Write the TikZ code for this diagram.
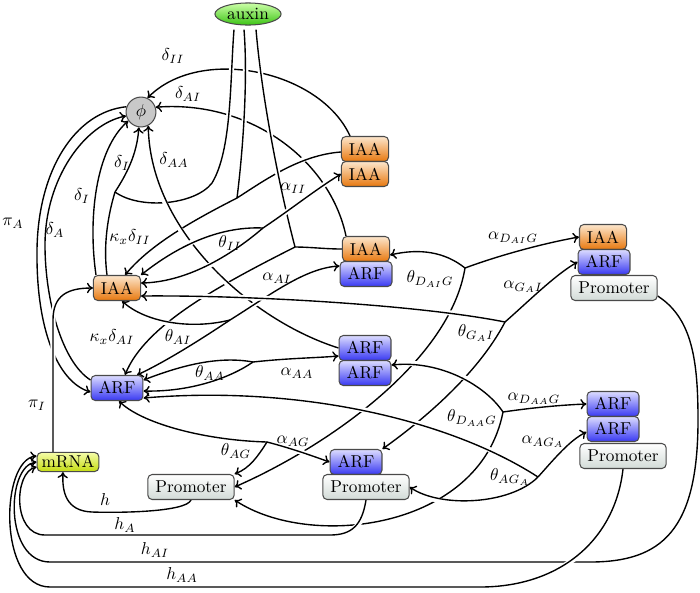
\documentclass[tikz,border=0pt]{standalone}
\usepackage{amsmath,amssymb}
\usepackage{xcolor}
\usepackage{tikz}
\usetikzlibrary{calc,shapes.geometric,arrows.meta}
\definecolor{boxline}{HTML}{4A4A4A}
\definecolor{iaaTop}{HTML}{FCE6CC}
\definecolor{iaaBot}{HTML}{E8780E}
\definecolor{arfTop}{HTML}{DCDCFF}
\definecolor{arfBot}{HTML}{3838F2}
\definecolor{proTop}{HTML}{FFFFFF}
\definecolor{proBot}{HTML}{D2DBD7}
\definecolor{mrnaTop}{HTML}{F4FCA8}
\definecolor{mrnaBot}{HTML}{C4DC10}
\definecolor{auxTop}{HTML}{CCFFA8}
\definecolor{auxBot}{HTML}{3CC414}
\definecolor{sinkFill}{HTML}{C8C8C8}
\pgfdeclarelayer{back}
\pgfsetlayers{back,main}
\tikzset{
  box/.style={draw=boxline, line width=0.6pt, rounded corners=2.5pt, minimum height=0.51cm, inner sep=1pt},
  iaabox/.style={box, top color=iaaTop, bottom color=iaaBot, minimum width=0.96cm},
  arfbox/.style={box, top color=arfTop, bottom color=arfBot, minimum width=1.06cm},
  prombox/.style={box, top color=proTop, bottom color=proBot, minimum width=1.76cm},
  mrnabox/.style={box, top color=mrnaTop, bottom color=mrnaBot, minimum width=1.26cm, minimum height=0.39cm},
  signal/.style={ellipse, draw=boxline, line width=0.6pt, top color=auxTop, bottom color=auxBot, minimum width=1.35cm, minimum height=0.45cm, inner sep=0pt},
  sink/.style={circle, draw=boxline, line width=0.6pt, fill=sinkFill, minimum size=0.61cm, inner sep=0pt},
  rx/.style={draw=black, line width=0.8pt, preaction={-, draw=white, line width=3pt, shorten <=6pt, shorten >=6pt}},
  ra/.style={rx, -{To[length=3.5pt,width=6pt]}},
  lab/.style={inner sep=0pt},
}

\begin{document}
\begin{tikzpicture}[x=0.0204cm, y=-0.0204cm]
  \useasboundingbox (0,0) rectangle (700,592);
  \node[signal] (auxin) at (248,14) {auxin};
  \node[sink] (phi) at (141,112) {$\phi$};
  \node[iaabox] (iiT) at (365,149) {IAA};
  \node[iaabox] (iiB) at (365,174) {IAA};
  \node[iaabox] (iaI) at (366,249) {IAA};
  \node[arfbox] (iaA) at (366,274) {ARF};
  \node[arfbox] (aaT) at (365,348) {ARF};
  \node[arfbox] (aaB) at (365,373) {ARF};
  \node[iaabox] (iaa) at (117,288) {IAA};
  \node[arfbox] (arf) at (117,388) {ARF};
  \node[mrnabox] (mrna) at (68,462) {mRNA};
  \node[prombox] (gP) at (191,487) {Promoter};
  \node[arfbox] (gaA) at (356,462) {ARF};
  \node[prombox] (gaP) at (366,487) {Promoter};
  \node[iaabox] (gaiI) at (603,237) {IAA};
  \node[arfbox] (gaiA) at (604,262) {ARF};
  \node[prombox] (gaiP) at (614,288) {Promoter};
  \node[arfbox] (gaaT) at (613,404) {ARF};
  \node[arfbox] (gaaB) at (613,429) {ARF};
  \node[prombox] (gaaP) at (623,456) {Promoter};

  \coordinate (jI) at (115,192);
  \coordinate (jII) at (237,198);
  \coordinate (jAx) at (295,247);
  \coordinate (jII2) at (263,228);
  \coordinate (jAI) at (230,320);
  \coordinate (jAA) at (253,362);
  \coordinate (jAG) at (267,442);
  \coordinate (jAGA) at (538,477);
  \coordinate (jDAA) at (503,412);
  \coordinate (jDAI) at (465,268);
  \coordinate (jGAI) at (505,322);

  \begin{pgfonlayer}{back}
  \draw[ra] ($(iiT.north)+(-15,0)$) .. controls (320,70) and (200,45) .. (phi.65);
  \draw[ra] ($(iaI.north)+(-20,0)$) .. controls (330,160) and (250,100) .. (phi.18);
  \draw[ra] ($(iaa.north)+(-21,0)$) .. controls (88,220) and (95,150) .. (phi.-145);
  \draw[ra] (phi.160) .. controls (75,112) and (38,170) .. (37,250) .. controls (36,330) and (58,382) .. ($(arf.west)+(0,4)$);
  \draw[ra] ($(arf.west)+(0,-8)$) .. controls (62,362) and (45,300) .. (45,245) .. controls (45,178) and (85,124) .. (phi.195);
  \draw[rx] ($(auxin.south)+(-14,4)$) .. controls (230,80) and (232,150) .. (212,183) .. controls (195,205) and (140,210) .. (jI);
  \draw[rx] ($(iaa.north)+(-10,0)$) .. controls (103,245) and (108,215) .. (jI);
  \draw[ra] (jI) .. controls (126,175) and (137,155) .. (phi.-98);
  \draw[rx] ($(iiT.west)+(0,3)$) .. controls (300,155) and (265,180) .. (jII);
  \draw[rx] ($(auxin.south)+(-4,4)$) .. controls (248,80) and (243,150) .. (jII);
  \draw[ra] (jII) .. controls (190,222) and (150,245) .. ($(iaa.north)+(8,0)$);
  \draw[rx] (iaI.west) .. controls (325,249) and (310,247) .. (jAx);
  \draw[rx] ($(auxin.south)+(8,4)$) .. controls (262,100) and (280,190) .. (jAx);
  \draw[ra] (jAx) .. controls (220,285) and (145,325) .. ($(arf.north)+(8,0)$);
  \draw[ra] (aaT.west) .. controls (250,320) and (150,230) .. (phi.-62);
  \draw[ra] (jII2) .. controls (290,210) and (315,190) .. (iiB.west);
  \draw[ra] (jII2) .. controls (217,226) and (175,248) .. (iaa.north east);
  \draw[ra] (jII2) .. controls (235,252) and (190,282) .. ($(iaa.east)+(0,-5)$);
  \draw[ra] (jAI) .. controls (270,295) and (305,268) .. ($(iaA.west)+(0,-8)$);
  \draw[ra] (jAI) .. controls (190,330) and (145,322) .. ($(iaa.south)+(5,0)$);
  \draw[ra] (jAI) .. controls (200,340) and (165,362) .. ($(arf.north)+(20,0)$);
  \draw[ra] (jAA) .. controls (290,358) and (315,358) .. ($(aaT.west)+(0,8)$);
  \draw[ra] (jAA) .. controls (215,355) and (175,368) .. ($(arf.east)+(0,-8)$);
  \draw[ra] (jAA) .. controls (230,378) and (190,392) .. ($(arf.east)+(0,3)$);
  \draw[ra] (jDAI) .. controls (500,255) and (545,243) .. (gaiI.west);
  \draw[ra] (jDAI) .. controls (445,252) and (420,248) .. ($(iaI.east)+(0,6)$);
  \draw[ra] (jDAI) .. controls (450,360) and (330,445) .. (gP.east);
  \draw[ra] (jGAI) .. controls (530,300) and (555,275) .. (gaiA.west);
  \draw[ra] (jGAI) .. controls (420,305) and (250,295) .. ($(iaa.east)+(0,8)$);
  \draw[ra] (jGAI) .. controls (480,370) and (430,415) .. (gaA.north east);
  \draw[ra] (jDAA) .. controls (530,408) and (560,405) .. (gaaT.west);
  \draw[ra] (jDAA) .. controls (485,385) and (440,360) .. ($(aaB.east)+(0,-8)$);
  \draw[ra] (jDAA) .. controls (480,530) and (310,550) .. (gP.south east);
  \draw[ra] (jAGA) .. controls (555,458) and (570,440) .. ($(gaaB.west)+(0,3)$);
  \draw[ra] (jAGA) .. controls (510,505) and (440,508) .. (gaP.east);
  \draw[ra] (jAGA) .. controls (450,420) and (300,385) .. ($(arf.east)+(0,10)$);
  \draw[ra] (jAG) .. controls (290,448) and (310,455) .. (gaA.west);
  \draw[ra] (jAG) .. controls (258,456) and (250,468) .. (gP.north east);
  \draw[ra] (jAG) .. controls (200,440) and (140,422) .. ($(arf.south)+(2,0)$);
  \draw[ra] ($(mrna.north)+(-15,0)$) -- (53,320) .. controls (53,295) and (68,288) .. (iaa.west);
  \draw[ra] (gP.south) .. controls (186,512) and (120,513) .. (92,512) .. controls (66,511) and (62,492) .. ($(mrna.south)+(-5,0)$);
  \draw[ra] (gaP.south) .. controls (362,525) and (352,535) .. (330,535) -- (45,535) .. controls (12,535) and (14,472) .. ($(mrna.west)+(0,5)$);
  \draw[ra] ($(gaiP.east)+(0,8)$) .. controls (692,318) and (698,360) .. (698,420) .. controls (698,530) and (662,562) .. (590,562) -- (50,562) .. controls (4,562) and (6,466) .. (mrna.west);
  \draw[ra] (gaaP.south) .. controls (615,540) and (560,587) .. (480,587) -- (50,587) .. controls (-2,587) and (0,460) .. ($(mrna.west)+(0,-6)$);
  \end{pgfonlayer}

  \node[lab] (lDII) at (173,56) {$\delta_{II}$};
  \node[lab] (lDAI) at (188,94) {$\delta_{AI}$};
  \node[lab] (lDAA) at (174,160) {$\delta_{AA}$};
  \node[lab] (lDIa) at (122,163) {$\delta_I$};
  \node[lab] (lDIb) at (82,196) {$\delta_I$};
  \node[lab] (lPA) at (13,223) {$\pi_A$};
  \node[lab] (lDA) at (55,230) {$\delta_A$};
  \node[lab] (lKII) at (130,237) {$\kappa_x\delta_{II}$};
  \node[lab] (lAII) at (293,188) {$\alpha_{II}$};
  \node[lab] (lTII) at (230,243) {$\theta_{II}$};
  \node[lab] (lAAI) at (277,278) {$\alpha_{AI}$};
  \node[lab] (lTAI) at (178,337) {$\theta_{AI}$};
  \node[lab] (lKAI) at (112,337) {$\kappa_x\delta_{AI}$};
  \node[lab] (lTAA) at (210,373) {$\theta_{AA}$};
  \node[lab] (lAAA) at (297,373) {$\alpha_{AA}$};
  \node[lab] (lPI) at (37,405) {$\pi_I$};
  \node[lab] (lTAG) at (236,451) {$\theta_{AG}$};
  \node[lab] (lAAG) at (293,441) {$\alpha_{AG}$};
  \node[lab] (lADAI) at (513,238) {$\alpha_{D_{AI}G}$};
  \node[lab] (lTDAI) at (430,279) {$\theta_{D_{AI}G}$};
  \node[lab] (lAGAI) at (523,287) {$\alpha_{G_AI}$};
  \node[lab] (lTGAI) at (476,333) {$\theta_{G_AI}$};
  \node[lab] (lADAA) at (534,399) {$\alpha_{D_{AA}G}$};
  \node[lab] (lTDAA) at (472,418) {$\theta_{D_{AA}G}$};
  \node[lab] (lAAGA) at (543,442) {$\alpha_{AG_A}$};
  \node[lab] (lTAGA) at (510,477) {$\theta_{AG_A}$};
  \node[lab] (lh) at (105,500) {$h$};
  \node[lab] (lhA) at (125,525) {$h_A$};
  \node[lab] (lhAI) at (155,550) {$h_{AI}$};
  \node[lab] (lhAA) at (182,575) {$h_{AA}$};
\end{tikzpicture}
\end{document}
